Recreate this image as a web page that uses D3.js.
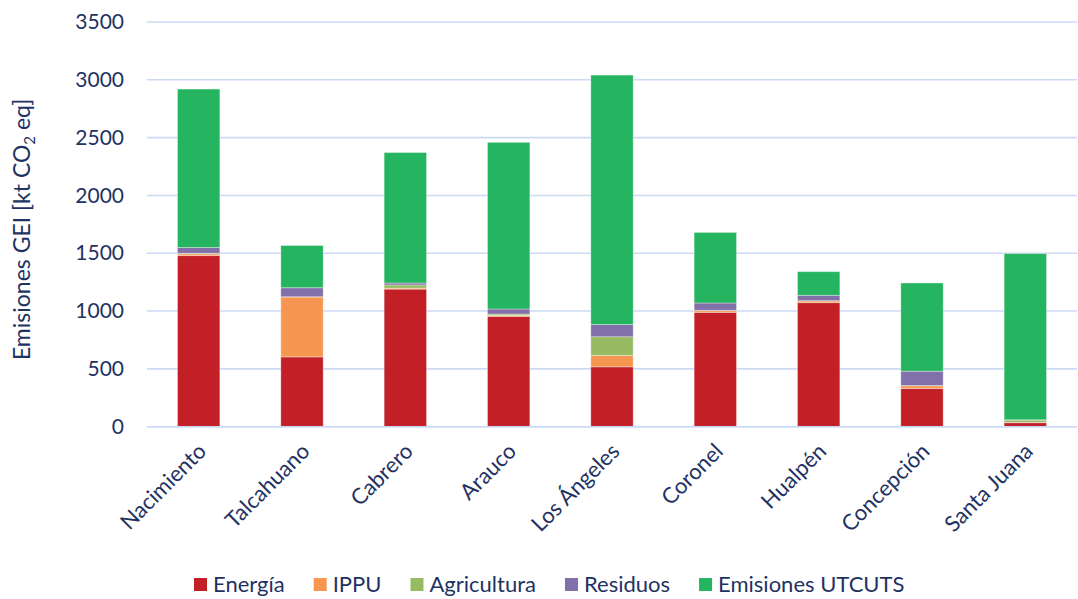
<!DOCTYPE html>
<html>
<head>
<meta charset="utf-8">
<script src="https://cdn.jsdelivr.net/npm/d3@7"></script>
<style>
  html, body { margin: 0; padding: 0; background: #ffffff; }
  svg { display: block; font-family: Lato, "Open Sans", sans-serif; }
</style>
</head>
<body>
<svg id="chart" width="1078" height="599"></svg>
<script>
// Municipalities (x axis categories)
const comunas = ["Nacimiento", "Talcahuano", "Cabrero", "Arauco", "Los Ángeles",
                 "Coronel", "Hualpén", "Concepción", "Santa Juana"];

// Emissions by sector, kt CO2 eq
const energia     = [1480,  604, 1190,  954,  518,  989, 1073,  330,   35];
const ippu        = [  15,  518,    8,    8,   98,   15,   15,   24,    2];
const agricultura = [   5,    2,   28,   12,  162,    2,    2,    2,   20];
const residuos    = [  50,   78,   17,   44,  106,   64,   46,  124,    3];
const utcuts      = [1370,  365, 1128, 1441, 2157,  610,  205,  763, 1437];

const serieNames  = ["Energía", "IPPU", "Agricultura", "Residuos", "Emisiones UTCUTS"];
const serieColors = ["#C21F26", "#F79650", "#97BB62", "#8170AA", "#25B45F"];
const yTicks      = [0, 500, 1000, 1500, 2000, 2500, 3000, 3500];

const textColor = "#1F3262";
const gridColor = "#CCDAF5";

const svg = d3.select("#chart");
const margin = { left: 147, right: 1, top: 22, bottom: 173 };
const W = +svg.attr("width"), H = +svg.attr("height");

const rows = comunas.map((c, i) => ({
  comuna: c,
  "Energía": energia[i],
  "IPPU": ippu[i],
  "Agricultura": agricultura[i],
  "Residuos": residuos[i],
  "Emisiones UTCUTS": utcuts[i]
}));

const stacked = d3.stack().keys(serieNames)(rows);

const x = d3.scaleBand()
  .domain(comunas)
  .range([margin.left, W - margin.right])
  .paddingInner(0.59)
  .paddingOuter(0.295);

const y = d3.scaleLinear()
  .domain([0, 3500])
  .range([H - margin.bottom + 0.7, margin.top]);

// Horizontal gridlines
svg.append("g")
  .selectAll("line")
  .data(yTicks)
  .join("line")
  .attr("x1", margin.left)
  .attr("x2", W - margin.right)
  .attr("y1", d => y(d))
  .attr("y2", d => y(d))
  .attr("stroke", gridColor)
  .attr("stroke-width", 1.6);

// Y axis labels
const yAxis = d3.axisLeft(y).tickValues(yTicks).tickFormat(d3.format("d")).tickSize(0).tickPadding(23);
svg.append("g")
  .attr("transform", `translate(${margin.left},0)`)
  .call(yAxis)
  .call(g => g.select(".domain").remove())
  .selectAll("text")
  .attr("fill", textColor)
  .style("font-size", "21px")
  .style("font-family", "Lato, sans-serif");

// Stacked bars
const colorOf = d3.scaleOrdinal().domain(serieNames).range(serieColors);
svg.append("g")
  .selectAll("g")
  .data(stacked)
  .join("g")
  .attr("fill", d => colorOf(d.key))
  .selectAll("rect")
  .data(d => d)
  .join("rect")
  .attr("x", d => x(d.data.comuna))
  .attr("width", x.bandwidth())
  .attr("y", d => y(d[1]))
  .attr("height", d => Math.max(0, y(d[0]) - y(d[1])))
  .attr("stroke", "rgba(255,255,255,0.35)")
  .attr("stroke-width", 1);

// Baseline redrawn over bar bottoms
svg.append("line")
  .attr("x1", margin.left).attr("x2", W - margin.right)
  .attr("y1", y(0)).attr("y2", y(0))
  .attr("stroke", gridColor).attr("stroke-width", 1.6);

// X axis labels, rotated
svg.append("g")
  .selectAll("text")
  .data(comunas)
  .join("text")
  .attr("transform", d => `translate(${x(d) + x.bandwidth() / 2 + 9},${y(0) + 26}) rotate(-45)`)
  .attr("text-anchor", "end")
  .attr("fill", textColor)
  .style("font-size", "22px")
  .text(d => d);

// Y axis title with subscript
const title = svg.append("text")
  .attr("transform", `translate(30,${(margin.top + y(0)) / 2 + 5}) rotate(-90)`)
  .attr("text-anchor", "middle")
  .attr("fill", textColor)
  .style("font-size", "23px");
title.append("tspan").text("Emisiones GEI [kt CO");
title.append("tspan").attr("dy", 5).style("font-size", "15px").text("2");
title.append("tspan").attr("dy", -5).text(" eq]");

// Legend
const legend = svg.append("g").attr("transform", "translate(194,584)");
let lx = 0;
serieNames.forEach((name, i) => {
  const item = legend.append("g").attr("transform", `translate(${lx},0)`);
  item.append("rect")
    .attr("x", 0).attr("y", -6)
    .attr("width", 13).attr("height", 13)
    .attr("fill", serieColors[i]);
  const t = item.append("text")
    .attr("x", 19).attr("y", 8)
    .attr("fill", textColor)
    .style("font-size", "22px")
    .text(name);
  lx += 19 + t.node().getComputedTextLength() + 29;
});
</script>
</body>
</html>
